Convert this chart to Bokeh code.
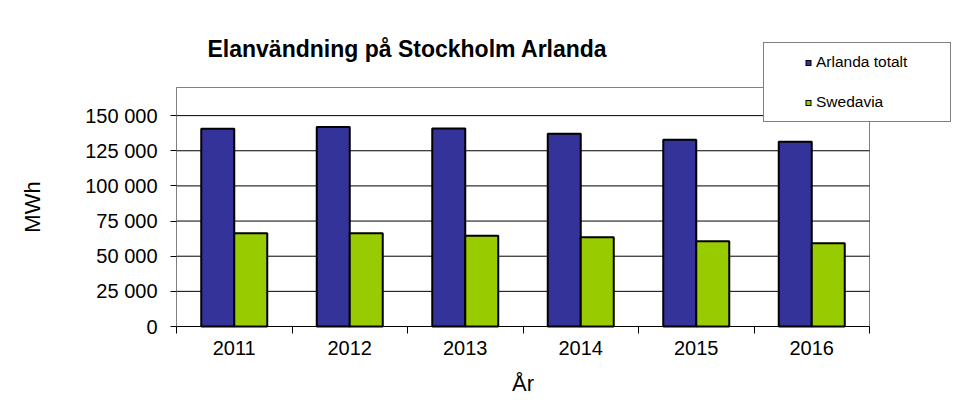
import math
from bokeh.plotting import figure
from bokeh.models import Range1d, FixedTicker, Legend, LegendItem, Label
from bokeh.embed import file_html
from bokeh.resources import INLINE

years = ["2011", "2012", "2013", "2014", "2015", "2016"]
arlanda_totalt = [140700, 141900, 140800, 137100, 132800, 131400]
swedavia = [66300, 66300, 64600, 63500, 60600, 59200]
y_axis_max = 170000
y_tick_values = [0, 25000, 50000, 75000, 100000, 125000, 150000]
y_tick_labels = ["0", "25 000", "50 000", "75 000", "100 000", "125 000", "150 000"]
series_names = ["Arlanda totalt", "Swedavia"]
series_colors = ["#333399", "#99CC00"]
title_text = "Elanvändning på Stockholm Arlanda"
x_title = "År"
y_title = "MWh"

FONT = "Liberation Sans"
W, H = 972, 413
# plot-area box in pixels (layout only)
PL, PR, PT, PB = 176, 869, 87, 326
n = len(years)
bw = 2 / 7  # Excel gap width 150%

# The frame covers the whole canvas; axes are pinned to the plot-area edges,
# so the legend box and title that overlap the plot-area edge are not clipped.
ppx = (PR - PL) / n                 # pixels per category
ppy = (PB - PT) / y_axis_max        # pixels per MWh
x_range = Range1d(-PL / ppx, (W - PL) / ppx)
y_range = Range1d(-(H - PB) / ppy, PB / ppy)

p = figure(width=W, height=H, output_backend="svg", toolbar_location=None, title=None,
           x_range=x_range, y_range=y_range,
           min_border_left=0, min_border_right=0, min_border_top=0, min_border_bottom=0)
p.outline_line_color = None
p.background_fill_color = "white"
p.border_fill_color = "white"
p.xgrid.visible = False
p.ygrid.visible = False

centers = [i + 0.5 for i in range(n)]
x1 = [c - bw / 2 for c in centers]
x2 = [c + bw / 2 for c in centers]

# plot-area border and gridlines
p.quad(left=[0], right=[n], bottom=[0], top=[y_axis_max],
       fill_color="white", line_color="#808080", line_width=1)
grid_vals = [v for v in y_tick_values if v > 0]
p.segment(x0=[0] * len(grid_vals), x1=[n] * len(grid_vals), y0=grid_vals, y1=grid_vals,
          line_color="black", line_width=1)

r1 = p.vbar(x=x1, top=arlanda_totalt, width=bw, bottom=0,
            fill_color=series_colors[0], line_color="black", line_width=2)
r2 = p.vbar(x=x2, top=swedavia, width=bw, bottom=0,
            fill_color=series_colors[1], line_color="black", line_width=2)

# legend-only swatches (hidden line renderers, dashed to make a small square)
def swatch(xs, ys, color):
    outer = p.line(x=xs, y=ys, line_color="black", line_width=6,
                   line_dash="6 300", line_dash_offset=-31, visible=False)
    inner = p.line(x=xs, y=ys, line_color=color, line_width=4,
                   line_dash="4 300", line_dash_offset=-32, visible=False)
    return [outer, inner]

s1 = swatch(x1, arlanda_totalt, series_colors[0])
s2 = swatch(x2, swedavia, series_colors[1])

# title
p.add_layout(Label(x=207, y=H - 48, x_units="screen", y_units="screen",
                   text=title_text, text_font=FONT, text_font_size="23px",
                   text_font_style="bold", text_color="black",
                   text_baseline="middle", text_align="left"))

# axis titles
p.add_layout(Label(x=n / 2, y=H - 383, x_units="data", y_units="screen",
                   text=x_title, text_font=FONT, text_font_size="22px",
                   text_color="black", text_baseline="middle", text_align="center"))
p.add_layout(Label(x=32, y=y_axis_max / 2, x_units="screen", y_units="data",
                   angle=math.pi / 2, text=y_title, text_font=FONT, text_font_size="22px",
                   text_color="black", text_baseline="middle", text_align="center"))

# y axis (pinned at x = 0)
yt = FixedTicker(ticks=y_tick_values)
p.yaxis.ticker = yt
p.yaxis.fixed_location = 0
p.yaxis.bounds = (0, y_axis_max)
p.yaxis.major_label_overrides = {v: s for v, s in zip(y_tick_values, y_tick_labels)}
p.yaxis.major_label_text_font = FONT
p.yaxis.major_label_text_font_size = "20px"
p.yaxis.major_label_text_color = "black"
p.yaxis.major_tick_out = 6
p.yaxis.major_tick_in = 0
p.yaxis.major_tick_line_color = "black"
p.yaxis.minor_tick_line_color = None
p.yaxis.axis_line_color = "#808080"
p.yaxis.major_label_standoff = 13

# x axis (pinned at y = 0): labels at category centers, ticks at boundaries
xt = FixedTicker(ticks=centers, minor_ticks=list(range(n + 1)))
p.xaxis.ticker = xt
p.xaxis.fixed_location = 0
p.xaxis.bounds = (0, n)
p.xaxis.major_label_overrides = {c: y for c, y in zip(centers, years)}
p.xaxis.major_label_text_font = FONT
p.xaxis.major_label_text_font_size = "20px"
p.xaxis.major_label_text_color = "black"
p.xaxis.major_tick_line_color = None
p.xaxis.major_tick_out = 0
p.xaxis.major_tick_in = 0
p.xaxis.minor_tick_line_color = "black"
p.xaxis.minor_tick_out = 7
p.xaxis.minor_tick_in = 0
p.xaxis.major_label_standoff = 7
p.xaxis.axis_line_color = "black"

legend = Legend(items=[LegendItem(label=series_names[0], renderers=s1),
                       LegendItem(label=series_names[1], renderers=s2)],
                location=(763, H - 122), orientation="vertical",
                padding=10, spacing=22, margin=0,
                glyph_width=42, glyph_height=17, label_height=17,
                label_width=124, label_standoff=0,
                label_text_font=FONT, label_text_font_size="15.5px",
                label_text_color="black",
                border_line_color="black", border_line_width=1,
                background_fill_color="white", background_fill_alpha=1)
p.add_layout(legend)

open("out.html", "w").write(file_html(p, INLINE))
